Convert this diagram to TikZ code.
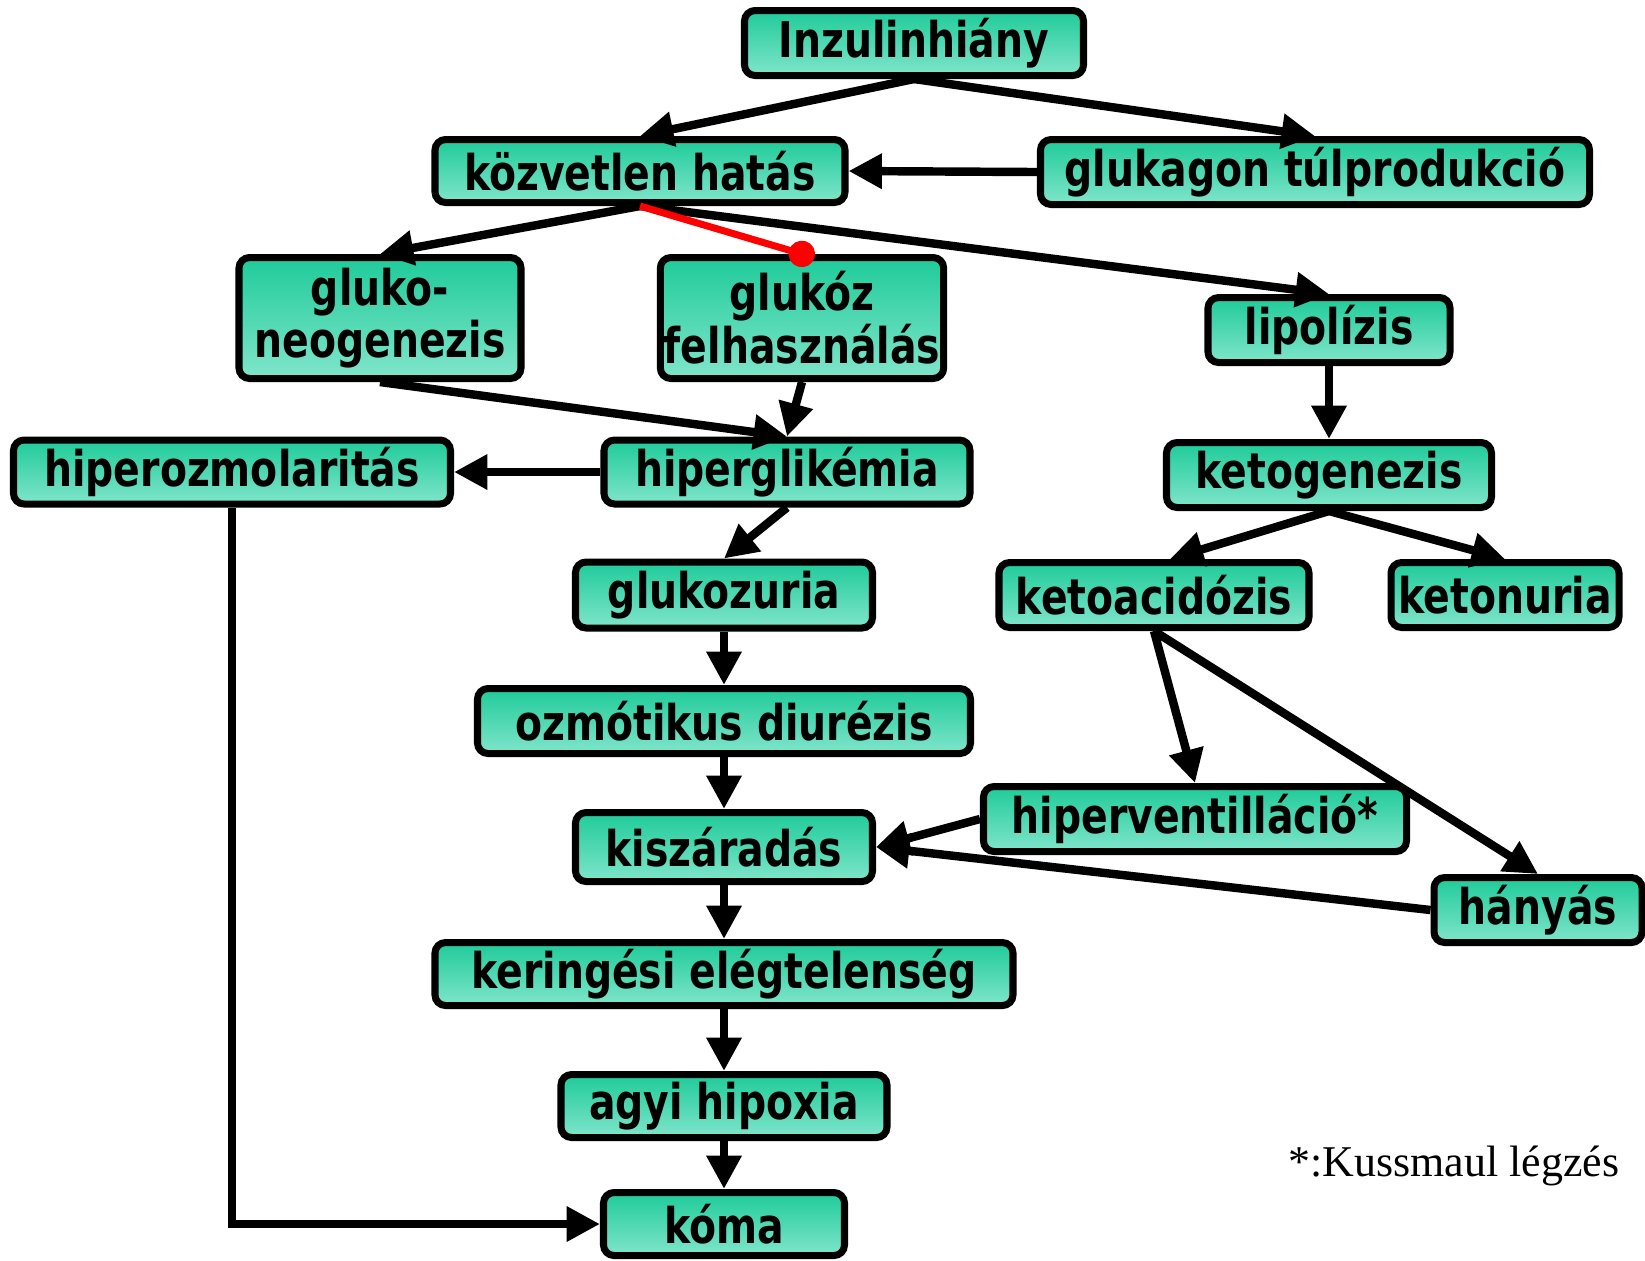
\documentclass[tikz,border=0pt]{standalone}
\usepackage{fontspec}
\setmainfont{DejaVu Sans}[FakeStretch=0.8]
\newfontfamily\notefont{Liberation Serif}
\usetikzlibrary{arrows.meta}
\definecolor{boxtop}{HTML}{1FCB9A}
\definecolor{boxbot}{HTML}{80E5CB}
\definecolor{inhred}{HTML}{FF0000}

\begin{document}
\begin{tikzpicture}[
        every node/.style={font=\fontsize{14}{15}\selectfont\bfseries},
        box/.style={
          draw=black, line width=2pt,
          top color=boxtop, bottom color=boxbot,
          rounded corners=3pt, inner sep=1pt,
          text=black, align=center,
        },
        arr/.style={-{Triangle[length=9.5pt,width=9.5pt]}, draw=black, line width=2.4pt},
        inh/.style={-{Circle[length=7.5pt]}, draw=inhred, line width=2pt, shorten >=-3.7pt},
        note/.style={font=\notefont\fontsize{12.5}{14}\selectfont},
      ]
      \useasboundingbox (0,0) rectangle (16.45,-12.60);

      % boxes
      \node[box, minimum width=3.39cm, minimum height=0.65cm] (inzulin) at (9.14,-0.43) {Inzulinhiány};
      \node[box, minimum width=4.10cm, minimum height=0.63cm] (kozvetlen) at (6.40,-1.71) {közvetlen hatás};
      \node[box, minimum width=5.49cm, minimum height=0.65cm] (glukagon) at (13.15,-1.72) {glukagon túlprodukció};
      \node[box, minimum width=2.82cm, minimum height=1.21cm] (gluconeo) at (3.80,-3.18) {gluko-\\neogenezis};
      \node[box, minimum width=2.82cm, minimum height=1.21cm] (glukoz) at (8.02,-3.18) {glukóz\\felhasználás};
      \node[box, minimum width=2.42cm, minimum height=0.65cm] (lipolizis) at (13.29,-3.30) {lipolízis};
      \node[box, minimum width=4.37cm, minimum height=0.64cm] (hiperozm) at (2.32,-4.72) {hiperozmolaritás};
      \node[box, minimum width=3.66cm, minimum height=0.64cm] (hipergli) at (7.87,-4.72) {hiperglikémia};
      \node[box, minimum width=3.25cm, minimum height=0.65cm] (ketogen) at (13.29,-4.75) {ketogenezis};
      \node[box, minimum width=2.97cm, minimum height=0.66cm] (glukozuria) at (7.24,-5.95) {glukozuria};
      \node[box, minimum width=3.10cm, minimum height=0.65cm] (ketoacid) at (11.54,-5.95) {ketoacidózis};
      \node[box, minimum width=2.28cm, minimum height=0.65cm] (ketonuria) at (15.05,-5.95) {ketonuria};
      \node[box, minimum width=4.93cm, minimum height=0.65cm] (ozmotikus) at (7.24,-7.21) {ozmótikus diurézis};
      \node[box, minimum width=4.23cm, minimum height=0.65cm] (hipervent) at (11.95,-8.19) {hiperventilláció*};
      \node[box, minimum width=2.97cm, minimum height=0.69cm] (kiszaradas) at (7.24,-8.47) {kiszáradás};
      \node[box, minimum width=2.08cm, minimum height=0.65cm] (hanyas) at (15.38,-9.10) {hányás};
      \node[box, minimum width=5.78cm, minimum height=0.63cm] (keringes) at (7.24,-9.74) {keringési elégtelenség};
      \node[box, minimum width=3.26cm, minimum height=0.63cm] (agyi) at (7.24,-11.06) {agyi hipoxia};
      \node[box, minimum width=2.41cm, minimum height=0.63cm] (koma) at (7.24,-12.24) {kóma};
      \node[note] (kussmaul) at (14.54,-11.66) {*:Kussmaul légzés};

      % connectors
      \draw[arr] (inzulin.south) -- (kozvetlen.north);
      \draw[arr] (inzulin.south) -- (glukagon.north);
      \draw[arr] (glukagon.west) -- (kozvetlen.east);
      \draw[arr] (kozvetlen.south) -- (gluconeo.north);
      \draw[arr] (kozvetlen.south) -- (lipolizis.north);
      \draw[inh] (kozvetlen.south) -- (glukoz.north);
      \draw[arr] (gluconeo.south) -- (hipergli.north);
      \draw[arr] (glukoz.south) -- (hipergli.north);
      \draw[arr] (hipergli.west) -- (hiperozm.east);
      \draw[arr] (hipergli.south) -- (glukozuria.north);
      \draw[arr] (lipolizis.south) -- (ketogen.north);
      \draw[arr] (ketogen.south) -- ([xshift=0.16cm]ketoacid.north);
      \draw[arr] (ketogen.south) -- (ketonuria.north);
      \draw[arr] (glukozuria.south) -- (ozmotikus.north);
      \draw[arr] (ozmotikus.south) -- (kiszaradas.north);
      \draw[arr] (kiszaradas.south) -- (keringes.north);
      \draw[arr] (keringes.south) -- (agyi.north);
      \draw[arr] (agyi.south) -- (koma.north);
      \draw[arr] (ketoacid.south) -- (hipervent.north);
      \draw[arr] (ketoacid.south) -- (hanyas.north);
      \draw[arr] (hipervent.west) -- (kiszaradas.east);
      \draw[arr] (hanyas.west) -- (kiszaradas.east);
      \draw[arr] (hiperozm.south) |- (koma.west);
    \end{tikzpicture}
\end{document}
